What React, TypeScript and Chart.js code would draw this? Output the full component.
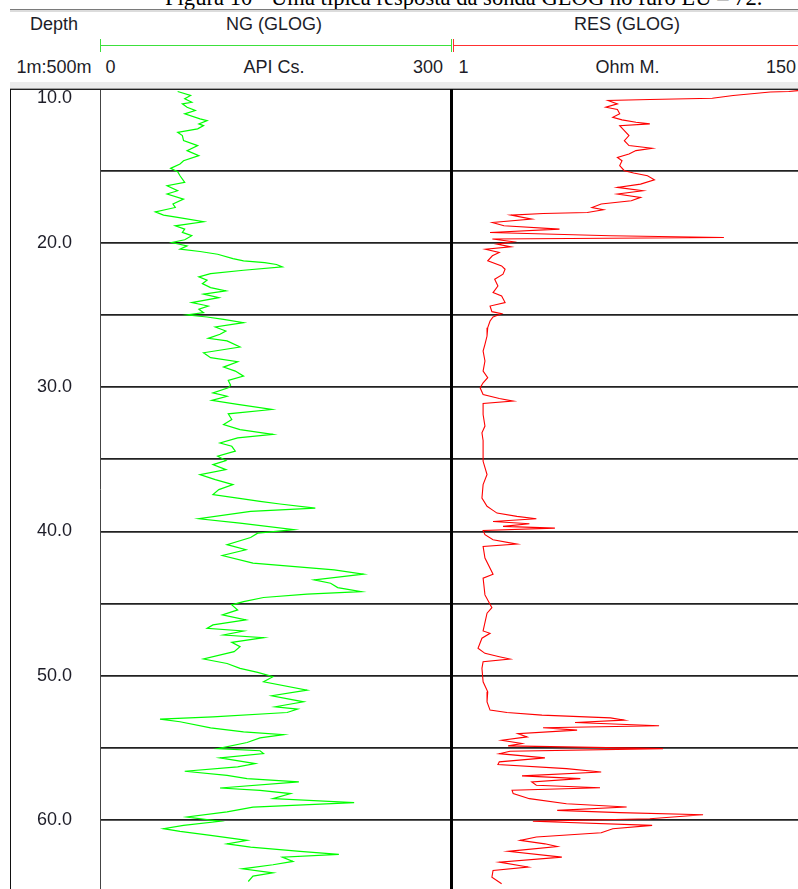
import React, { useEffect, useRef } from 'react';
import { Chart, registerables } from 'chart.js';

Chart.register(...registerables);

// ---- Depth axis ----
const DEPTH_TICKS = [10, 15, 20, 25, 30, 35, 40, 45, 50, 55, 60];
const DEPTH_MIN = 9.34;
const DEPTH_MAX = 64.78;

// ---- Track ranges ----
const NG_MIN = 0;
const NG_MAX = 300;
const RES_MIN = 1;
const RES_MAX = 150;

// ---- NG (GLOG), API Cs. ----
const NG_DEPTH = [
  9.51, 9.79, 10.02, 10.26, 10.37, 10.6, 10.83, 11.06, 11.41, 11.53, 11.76, 11.88, 12.1, 12.34, 12.57, 12.92,
  13.26, 13.61, 13.96, 14.31, 14.54, 14.84, 15.07, 15.35, 15.81, 16.04, 16.39, 16.62, 16.97, 17.31, 17.55,
  17.85, 18.08, 18.24, 18.54, 18.82, 19.05, 19.28, 19.51, 19.79, 19.98, 20.21, 20.44, 20.6, 20.79, 21.09,
  21.25, 21.37, 21.5, 21.67, 21.9, 22.13, 22.36, 22.59, 22.83, 23.1, 23.33, 23.56, 23.8, 24.14, 24.38, 24.6,
  24.84, 25.0, 25.14, 25.3, 25.53, 25.83, 26.11, 26.34, 26.62, 26.8, 27.22, 27.62, 27.96, 28.24, 28.61, 28.89,
  29.24, 29.54, 29.86, 30.05, 30.4, 30.63, 30.92, 31.2, 31.55, 31.85, 32.24, 32.59, 32.94, 33.28, 33.52, 33.87,
  34.1, 34.44, 34.79, 35.09, 35.37, 35.72, 36.06, 36.41, 36.76, 37.1, 37.45, 37.69, 37.92, 38.1, 38.38, 38.61,
  39.12, 39.42, 39.88, 40.12, 40.42, 40.92, 41.27, 41.67, 42.2, 42.66, 42.96, 43.36, 43.59, 43.89, 44.17,
  44.35, 44.58, 44.86, 45.09, 45.44, 45.78, 46.13, 46.48, 46.72, 46.9, 47.18, 47.36, 47.69, 47.99, 48.33,
  48.84, 49.15, 49.49, 49.77, 50.07, 50.42, 51.0, 51.39, 51.81, 52.15, 52.31, 52.55, 52.85, 53.01, 53.19,
  53.61, 53.89, 54.08, 54.31, 54.63, 55.05, 55.2, 55.4, 55.69, 56.09, 56.32, 56.62, 56.9, 57.13, 57.36, 57.78,
  57.94, 58.17, 58.52, 58.8, 59.1, 59.44, 59.79, 60.09, 60.37, 60.6, 60.79, 61.06, 61.41, 61.65, 61.88, 62.17,
  62.38, 62.57, 62.87, 63.1, 63.38, 63.66, 63.89, 64.26,
];
const NG_API = [
  66, 77, 72, 78, 70, 74, 81, 72, 85, 91, 84, 88, 83, 66, 70, 71,
  83, 74, 84, 71, 68, 60, 66, 68, 72, 57, 66, 57, 71, 62, 64,
  47, 54, 66, 88, 64, 72, 70, 78, 72, 61, 74, 68, 85, 100, 113,
  122, 140, 150, 155, 122, 94, 84, 91, 87, 94, 107, 88, 101, 78, 92, 84,
  88, 74, 91, 105, 122, 98, 107, 102, 92, 108, 119, 88, 94, 117, 105, 115,
  122, 109, 111, 109, 96, 108, 95, 117, 146, 109, 112, 105, 119, 147, 117, 102,
  112, 115, 100, 107, 96, 107, 85, 98, 113, 101, 96, 117, 136, 153, 183, 128,
  84, 119, 165, 134, 128, 108, 124, 104, 130, 199, 224, 182, 196, 202, 222,
  176, 139, 122, 112, 117, 104, 124, 96, 91, 122, 105, 139, 112, 119, 114,
  88, 108, 119, 134, 147, 139, 176, 146, 173, 149, 168, 159, 96, 51, 68,
  94, 122, 156, 136, 125, 100, 136, 139, 102, 132, 117, 72, 108, 125, 169, 102,
  136, 162, 147, 216, 130, 108, 74, 102, 71, 54, 68, 94, 125, 108, 128, 170,
  203, 155, 164, 147, 121, 147, 130, 126,
];

// ---- RES (GLOG), Ohm M. ----
const RES_DEPTH = [
  9.45, 9.51, 9.55, 9.79, 9.98, 10.07, 10.14, 10.37, 10.6, 10.76, 11.06, 11.3, 11.48, 11.64, 11.76, 11.88,
  12.22, 12.57, 12.92, 13.26, 13.45, 13.61, 13.84, 14.08, 14.31, 14.65, 15.0, 15.16, 15.35, 15.63, 15.93,
  16.16, 16.39, 16.62, 16.85, 17.08, 17.31, 17.55, 17.71, 17.9, 17.97, 18.08, 18.36, 18.59, 18.82, 19.05,
  19.28, 19.51, 19.63, 19.74, 19.93, 20.09, 20.28, 20.44, 20.67, 20.9, 21.25, 21.6, 21.83, 22.17, 22.52,
  22.99, 23.45, 23.68, 24.14, 24.38, 24.77, 24.91, 25.14, 25.42, 25.88, 26.46, 27.03, 27.5, 28.19, 28.89,
  29.35, 29.7, 30.05, 30.51, 30.79, 30.97, 31.13, 31.9, 32.7, 33.17, 33.7, 33.98, 35.14, 36.06, 36.76, 37.69,
  38.26, 38.49, 38.73, 38.96, 39.12, 39.31, 39.47, 39.65, 39.77, 39.93, 40.23, 40.58, 40.88, 41.04, 41.85,
  42.96, 43.24, 44.4, 45.28, 45.67, 46.9, 47.06, 47.4, 48.1, 48.45, 48.68, 48.84, 49.03, 49.49, 50.42, 51.11,
  51.81, 52.38, 52.55, 52.73, 52.92, 53.08, 53.24, 53.47, 53.61, 53.77, 54.01, 54.24, 54.47, 54.7, 54.86,
  55.05, 55.23, 55.4, 55.69, 55.97, 56.16, 56.44, 56.67, 56.94, 57.13, 57.36, 57.59, 57.76, 57.94, 58.17,
  58.52, 58.87, 59.1, 59.33, 59.49, 59.63, 59.91, 60.09, 60.37, 60.6, 60.88, 61.18, 61.41, 61.65, 61.83,
  62.17, 62.57, 62.92, 63.26, 63.49, 63.96, 64.42,
];
const RES_OHM = [
  150, 146, 138, 122, 113, 86, 68, 72, 67, 72, 73, 70, 74, 80, 86, 73,
  75, 77, 75, 77, 87, 80, 77, 72, 74, 73, 75, 79, 85, 88, 82,
  72, 83, 72, 82, 78, 65, 61, 66, 59, 40, 26, 35, 18, 23, 47,
  17, 69, 118, 18, 27, 20, 26, 15, 21, 18, 16, 22, 23.5, 22.6, 19,
  20.4, 18.3, 22, 23.5, 17, 17.8, 22, 18.3, 17, 16, 15.7, 14.8, 14, 14.8, 14,
  16, 14, 12.7, 14, 21, 27, 14, 14, 14.8, 13.5, 14, 14, 14, 15.7, 14, 13.5,
  15.7, 17.8, 20, 28.6, 37, 18.3, 34, 22.6, 45, 14, 14.8, 18.3, 28.6, 14, 14.8,
  18.3, 14, 14.8, 17.8, 15.7, 14, 17, 13.5, 11.8, 14.8, 21, 25.6, 14, 13.5, 14, 16,
  15.7, 17, 24.3, 39.4, 69, 75, 53.7, 90, 39.9, 54.6, 29, 33, 22, 30.8, 24.8,
  91.7, 25.6, 21, 40.7, 21, 20.4, 50, 65, 30.8, 56, 35, 37, 64.5, 26.5, 27,
  34, 50, 76, 46, 73, 109, 86, 35.5, 87, 70, 65, 37, 30, 40.7, 46,
  24.8, 48, 21, 33.4, 18.3, 17.8, 22,
];

const SANS = "'Liberation Sans', Arial, sans-serif";

function depthScale(showLabels: boolean, width: number) {
  return {
    type: 'linear',
    reverse: true,
    min: DEPTH_MIN,
    max: DEPTH_MAX,
    afterBuildTicks: (s: any) => {
      s.ticks = DEPTH_TICKS.map((v) => ({ value: v }));
    },
    afterFit: (s: any) => {
      s.width = width;
      s.paddingTop = 0;
      s.paddingBottom = 0;
    },
    ticks: {
      display: showLabels,
      autoSkip: false,
      callback: (v: any) => (Number(v) % 10 === 0 ? Number(v).toFixed(1) : ''),
      font: { family: SANS, size: 18 },
      color: '#1d1d28',
      crossAlign: 'near',
      padding: 28,
    },
    grid: {
      color: (ctx: any) => (ctx.tick && ctx.tick.value === 10 ? 'rgba(0,0,0,0)' : '#222'),
      lineWidth: 1.8,
      drawTicks: false,
    },
    border: { display: showLabels, color: '#444', width: 1 },
  };
}

function trackOptions(xmin: number, xmax: number, showLabels: boolean, axisWidth: number) {
  return {
    indexAxis: 'y',
    animation: false,
    responsive: false,
    maintainAspectRatio: false,
    layout: { padding: 0 },
    plugins: { legend: { display: false }, tooltip: { enabled: false }, title: { display: false } },
    scales: {
      x: { type: 'linear', min: xmin, max: xmax, display: false },
      y: depthScale(showLabels, axisWidth),
    },
  } as any;
}

const abs = (s: React.CSSProperties): React.CSSProperties => ({ position: 'absolute', ...s });

function Label({ x, y, text }: { x: number; y: number; text: string }) {
  return (
    <div
      style={abs({
        left: x,
        top: y,
        transform: 'translateX(-50%)',
        fontFamily: SANS,
        fontSize: 18,
        lineHeight: '18px',
        color: '#1d1d28',
        whiteSpace: 'nowrap',
        zIndex: 3,
      })}
    >
      {text}
    </div>
  );
}

export default function App() {
  const ngRef = useRef<HTMLCanvasElement>(null);
  const resRef = useRef<HTMLCanvasElement>(null);

  useEffect(() => {
    const ng = new Chart(ngRef.current as HTMLCanvasElement, {
      type: 'line',
      data: {
        datasets: [
          {
            data: NG_DEPTH.map((d, i) => ({ x: NG_API[i], y: d })),
            borderColor: '#00ff00',
            borderWidth: 1.2,
            pointRadius: 0,
            tension: 0,
            fill: false,
          },
        ],
      },
      options: trackOptions(NG_MIN, NG_MAX, true, 90),
    } as any);
    const res = new Chart(resRef.current as HTMLCanvasElement, {
      type: 'line',
      data: {
        datasets: [
          {
            data: RES_DEPTH.map((d, i) => ({ x: RES_OHM[i], y: d })),
            borderColor: '#ff0000',
            borderWidth: 1.1,
            pointRadius: 0,
            tension: 0,
            fill: false,
          },
        ],
      },
      options: trackOptions(RES_MIN, RES_MAX, false, 0),
    } as any);
    return () => {
      ng.destroy();
      res.destroy();
    };
  }, []);

  return (
    <div style={abs({ left: 0, top: 0, width: 798, height: 889, background: '#fff', overflow: 'hidden' })}>
      {/* caption cut at the top */}
      <div
        style={abs({
          left: 165,
          top: -13,
          fontFamily: "'Liberation Serif', 'Times New Roman', serif",
          fontSize: 22.6,
          lineHeight: '22px',
          color: '#000',
          whiteSpace: 'nowrap',
        })}
      >
        Figura 10 - Uma típica resposta da sonda GLOG no furo LU – 72.
      </div>
      {/* header frame lines */}
      <div style={abs({ left: 10, top: 9, width: 788, height: 1, background: '#7a7a7a', zIndex: 2 })} />
      <div style={abs({ left: 10, top: 10, width: 788, height: 2, background: '#dcdcdc', zIndex: 2 })} />

      <Label x={54} y={15} text="Depth" />
      <Label x={274} y={15} text="NG (GLOG)" />
      <Label x={627} y={15} text="RES (GLOG)" />

      {/* scale bars */}
      <div style={abs({ left: 100, top: 45, width: 352, height: 1, background: '#3ce03c' })} />
      <div style={abs({ left: 100, top: 39, width: 1, height: 13, background: '#3ce03c' })} />
      <div style={abs({ left: 451, top: 39, width: 1, height: 13, background: '#3ce03c' })} />
      <div style={abs({ left: 453, top: 45, width: 345, height: 1, background: '#ff3030' })} />
      <div style={abs({ left: 453, top: 39, width: 1, height: 13, background: '#ff3030' })} />

      <Label x={54} y={58} text="1m:500m" />
      <Label x={110.5} y={58} text="0" />
      <Label x={274} y={58} text="API Cs." />
      <Label x={428} y={58} text="300" />
      <Label x={463.5} y={58} text="1" />
      <Label x={627.5} y={58} text="Ohm M." />
      <Label x={781} y={58} text="150" />

      {/* separator between header and tracks */}
      <div style={abs({ left: 10, top: 82, width: 788, height: 6, background: '#ececec', zIndex: 2 })} />
      <div style={abs({ left: 10, top: 88, width: 788, height: 1, background: '#a0a0a0', zIndex: 2 })} />
      <div style={abs({ left: 10, top: 89, width: 788, height: 1, background: '#222', zIndex: 2 })} />

      {/* tracks */}
      <canvas ref={ngRef} width={443} height={800} style={abs({ left: 10, top: 89, width: 443, height: 800 })} />
      <canvas ref={resRef} width={345} height={800} style={abs({ left: 453, top: 89, width: 345, height: 800 })} />

      {/* frame verticals */}
      <div style={abs({ left: 10, top: 89, width: 1, height: 800, background: '#111', zIndex: 2 })} />
      <div style={abs({ left: 450, top: 89, width: 3, height: 800, background: '#000', zIndex: 2 })} />
    </div>
  );
}
